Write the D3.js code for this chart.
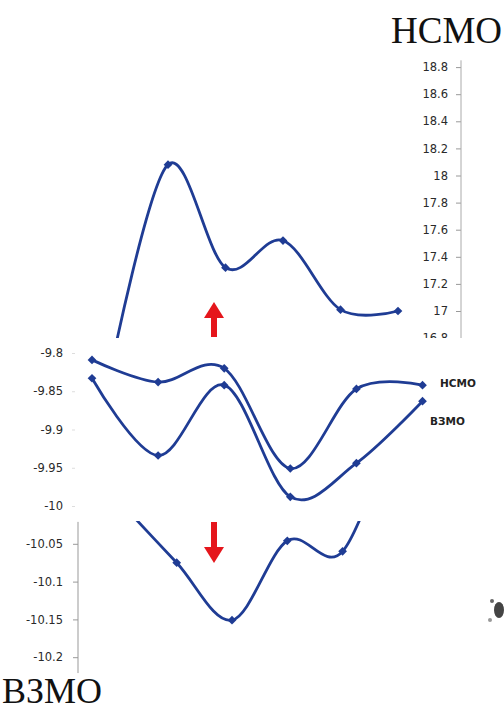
<!DOCTYPE html>
<html>
<head>
<meta charset="utf-8">
<script src="https://cdn.jsdelivr.net/npm/d3@7"></script>
<style>
  body { margin: 0; background: #fff; }
  svg { display: block; }
</style>
</head>
<body>
<div id="plot"></div>
<script>
// categories (same 6 points in each panel)
const idx = [0, 1, 2, 3, 4, 5];

// top panel: НСМО energies
const topVals = [16.56, 18.08, 17.32, 17.52, 17.01, 17.0];
const topTicks = [16.8, 17, 17.2, 17.4, 17.6, 17.8, 18, 18.2, 18.4, 18.6, 18.8];

// middle panel: two series
const midNames = ["НСМО", "ВЗМО"];
const midHcmo = [-9.809, -9.838, -9.82, -9.951, -9.847, -9.842];
const midB3mo = [-9.833, -9.934, -9.842, -9.988, -9.944, -9.863];
const midTicks = [-9.8, -9.85, -9.9, -9.95, -10];

// bottom panel: ВЗМО energies
const botVals = [-9.997, -10.075, -10.151, -10.046, -10.06, -9.88];
const botTicks = [-10.05, -10.1, -10.15, -10.2];

const width = 504, height = 711;
const blue = "#1f3c94";
const svg = d3.select("#plot").append("svg")
    .attr("width", width)
    .attr("height", height);

const fmt = d => String(+d.toFixed(2));
const curve = d3.curveCardinal.tension(0);

// clip regions for the cut-out panels
const defs = svg.append("defs");
defs.append("clipPath").attr("id", "clipTop")
    .append("rect").attr("x", 0).attr("y", 50).attr("width", width).attr("height", 288);
defs.append("clipPath").attr("id", "clipBot")
    .append("rect").attr("x", 0).attr("y", 521).attr("width", width).attr("height", 160);

function drawSeries(g, x, y, vals, markers) {
    const line = d3.line()
        .x((d, i) => x(i))
        .y(d => y(d))
        .curve(curve);
    g.append("path")
        .datum(vals)
        .attr("fill", "none")
        .attr("stroke", blue)
        .attr("stroke-width", 2.8)
        .attr("d", line);
    const sym = d3.symbol().type(d3.symbolSquare).size(38);
    g.selectAll(null)
        .data(markers.map(i => [i, vals[i]]))
        .enter()
        .append("path")
        .attr("d", sym)
        .attr("fill", blue)
        .attr("transform", d => `translate(${x(d[0])},${y(d[1])}) rotate(45)`);
}

function styleAxis(g, tickColor) {
    g.selectAll("text")
        .attr("font-family", "DejaVu Sans")
        .attr("font-size", 11.5)
        .attr("fill", "#2a2a2a");
    g.selectAll(".tick line").attr("stroke", tickColor);
    g.select(".domain").remove();
}

// ---- top panel ----
const xTop = d3.scaleLinear().domain([0, 5]).range([110.5, 398]);
const yTop = d3.scaleLinear().domain([17, 18.8]).range([311, 67.1]);
const gTop = svg.append("g").attr("clip-path", "url(#clipTop)");

const axTop = gTop.append("g")
    .attr("transform", "translate(461,0)")
    .call(d3.axisLeft(yTop).tickValues(topTicks).tickFormat(fmt).tickSize(5).tickPadding(8));
styleAxis(axTop, "#999");
gTop.append("line")
    .attr("x1", 461).attr("x2", 461)
    .attr("y1", yTop(18.85)).attr("y2", yTop(16.75))
    .attr("stroke", "#aaa");
drawSeries(gTop, xTop, yTop, topVals, [1, 2, 3, 4, 5]);

// ---- middle panel ----
const xMid = d3.scaleLinear().domain([0, 5]).range([92, 422.5]);
const yMid = d3.scaleLinear().domain([-9.8, -10]).range([353, 506]);
const gMid = svg.append("g");
const axMid = gMid.append("g")
    .attr("transform", "translate(75,0)")
    .call(d3.axisLeft(yMid).tickValues(midTicks).tickFormat(fmt).tickSize(3).tickPadding(9));
styleAxis(axMid, "#ddd");
drawSeries(gMid, xMid, yMid, midHcmo, idx);
drawSeries(gMid, xMid, yMid, midB3mo, idx);

gMid.selectAll(".lbl")
    .data(midNames)
    .enter()
    .append("text")
    .attr("x", (d, i) => i === 0 ? 440 : 430)
    .attr("y", (d, i) => i === 0 ? 387 : 425)
    .attr("font-family", "DejaVu Sans")
    .attr("font-weight", "bold")
    .attr("font-size", 10.5)
    .attr("fill", "#222")
    .text(d => d);

// ---- bottom panel ----
const xBot = d3.scaleLinear().domain([0, 5]).range([121.4, 397.9]);
const yBot = d3.scaleLinear().domain([-10, -10.2]).range([506, 657.2]);
const gBot = svg.append("g");
const axBot = gBot.append("g")
    .attr("transform", "translate(78,0)")
    .call(d3.axisLeft(yBot).tickValues(botTicks).tickFormat(fmt).tickSize(5).tickPadding(10));
styleAxis(axBot, "#999");
gBot.append("line")
    .attr("x1", 78).attr("x2", 78)
    .attr("y1", yBot(-10.021)).attr("y2", yBot(-10.221))
    .attr("stroke", "#999");
const gBotData = gBot.append("g").attr("clip-path", "url(#clipBot)");
drawSeries(gBotData, xBot, yBot, botVals, [1, 2, 3, 4]);

// ---- red arrows ----
function arrow(cx, yTail, yTip) {
    const dir = yTip < yTail ? -1 : 1;
    const headLen = 16, headW = 10, shaftW = 3;
    const yHead = yTip - dir * headLen;
    const pts = [
        [cx - shaftW, yTail], [cx - shaftW, yHead], [cx - headW, yHead],
        [cx, yTip], [cx + headW, yHead], [cx + shaftW, yHead], [cx + shaftW, yTail]
    ];
    svg.append("path")
        .attr("d", d3.line()(pts) + "Z")
        .attr("fill", "#e5161c");
}
arrow(214, 337, 302);
arrow(214, 522, 563);

// ---- titles ----
svg.append("text")
    .attr("x", 391).attr("y", 43)
    .attr("font-family", "Liberation Serif")
    .attr("font-size", 37)
    .attr("fill", "#111")
    .text("НСМО");
svg.append("text")
    .attr("x", 2).attr("y", 703)
    .attr("font-family", "Liberation Serif")
    .attr("font-size", 36)
    .attr("fill", "#111")
    .text("ВЗМО");

// small cut-off fragment at the right edge
const frag = svg.append("g").attr("fill", "#444");
frag.append("ellipse").attr("cx", 499).attr("cy", 610).attr("rx", 5).attr("ry", 8);
frag.append("circle").attr("cx", 492).attr("cy", 601).attr("r", 2).attr("fill", "#666");
frag.append("circle").attr("cx", 490).attr("cy", 620).attr("r", 2).attr("fill", "#999");
</script>
</body>
</html>
